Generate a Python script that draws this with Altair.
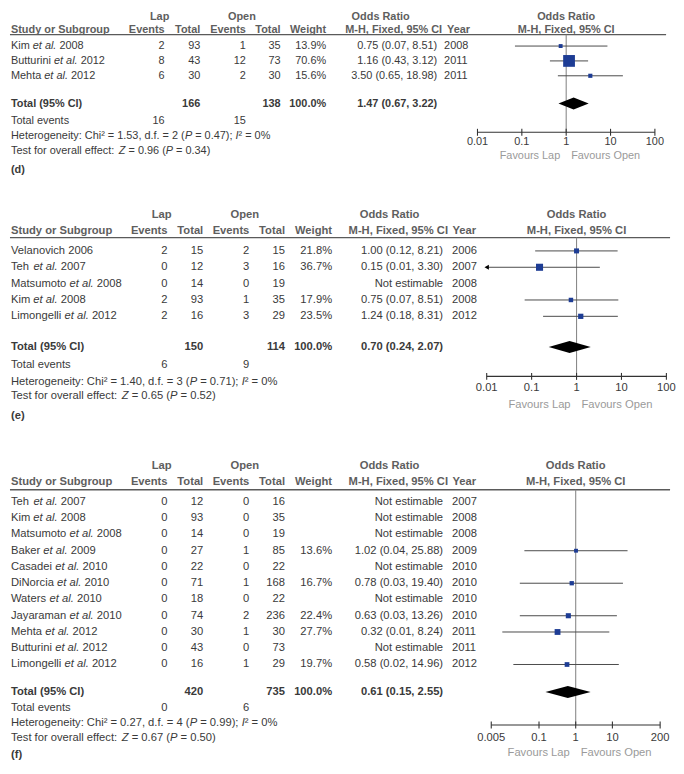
import altair as alt
import pandas as pd

FONT = "Liberation Sans, Arial, Helvetica, sans-serif"
BLUE = "#1d3c94"
TXT = "#3a3a3a"
HDR = "#5e5e5e"
FAV = "#9a9a9a"
W = 668

# ---------------- data: panel (d) ----------------
d_author = ["Kim", "Butturini", "Mehta"]
d_etal = [True, True, True]
d_pub = ["2008", "2012", "2012"]
d_lap_ev = [2, 8, 6]
d_lap_n = [93, 43, 30]
d_open_ev = [1, 12, 2]
d_open_n = [35, 73, 30]
d_weight = [13.9, 70.6, 15.6]
d_or = [0.75, 1.16, 3.50]
d_lo = [0.07, 0.43, 0.65]
d_hi = [8.51, 3.12, 18.98]
d_year = [2008, 2011, 2011]
d_tot_n = [166, 138]
d_tot_ev = [16, 15]
d_tot_or = [1.47, 0.67, 3.22]
d_het = ["1.53", "2", "0.47", "0"]
d_z = ["0.96", "0.34"]
d_ticks = [0.01, 0.1, 1, 10, 100]
d_tick_labels = ["0.01", "0.1", "1", "10", "100"]

# ---------------- data: panel (e) ----------------
e_author = ["Velanovich", "Teh", "Matsumoto", "Kim", "Limongelli"]
e_etal = [False, True, True, True, True]
e_pub = ["2006", "2007", "2008", "2008", "2012"]
e_lap_ev = [2, 0, 0, 2, 2]
e_lap_n = [15, 12, 14, 93, 16]
e_open_ev = [2, 3, 0, 1, 3]
e_open_n = [15, 16, 19, 35, 29]
e_weight = [21.8, 36.7, None, 17.9, 23.5]
e_or = [1.00, 0.15, None, 0.75, 1.24]
e_lo = [0.12, 0.01, None, 0.07, 0.18]
e_hi = [8.21, 3.30, None, 8.51, 8.31]
e_year = [2006, 2007, 2008, 2008, 2012]
e_tot_n = [150, 114]
e_tot_ev = [6, 9]
e_tot_or = [0.70, 0.24, 2.07]
e_het = ["1.40", "3", "0.71", "0"]
e_z = ["0.65", "0.52"]
e_ticks = [0.01, 0.1, 1, 10, 100]
e_tick_labels = ["0.01", "0.1", "1", "10", "100"]

# ---------------- data: panel (f) ----------------
f_author = ["Teh", "Kim", "Matsumoto", "Baker", "Casadei", "DiNorcia",
            "Waters", "Jayaraman", "Mehta", "Butturini", "Limongelli"]
f_etal = [True, True, True, True, True, True, True, True, True, True, True]
f_pub = ["2007", "2008", "2008", "2009", "2010", "2010", "2010", "2010",
         "2012", "2012", "2012"]
f_lap_ev = [0, 0, 0, 0, 0, 0, 0, 0, 0, 0, 0]
f_lap_n = [12, 93, 14, 27, 22, 71, 18, 74, 30, 43, 16]
f_open_ev = [0, 0, 0, 1, 0, 1, 0, 2, 1, 0, 1]
f_open_n = [16, 35, 19, 85, 22, 168, 22, 236, 30, 73, 29]
f_weight = [None, None, None, 13.6, None, 16.7, None, 22.4, 27.7, None, 19.7]
f_or = [None, None, None, 1.02, None, 0.78, None, 0.63, 0.32, None, 0.58]
f_lo = [None, None, None, 0.04, None, 0.03, None, 0.03, 0.01, None, 0.02]
f_hi = [None, None, None, 25.88, None, 19.40, None, 13.26, 8.24, None, 14.96]
f_year = [2007, 2008, 2008, 2009, 2010, 2010, 2010, 2010, 2011, 2011, 2012]
f_tot_n = [420, 735]
f_tot_ev = [0, 6]
f_tot_or = [0.61, 0.15, 2.55]
f_het = ["0.27", "4", "0.99", "0"]
f_z = ["0.67", "0.50"]
f_ticks = [0.005, 0.1, 1, 10, 200]
f_tick_labels = ["0.005", "0.1", "1", "10", "200"]

# ---------------- layout (pixels) ----------------
COLS_D = dict(name=3, lapE=158, lapT=194, openE=240, openT=275, wt=321, orr=433,
              yr=440, lapH=153, openH=236, orH=376, mh=438, yrH=443)
COLS_EF = dict(name=3, lapE=161, lapT=197, openE=243.5, openT=279.5, wt=327, orr=439,
               yr=448, lapH=155, openH=239, orH=385, mh=444, yrH=448.5)
LAY_D = dict(H=175, first=35, sp=15.0, fs=11, h1=-29, h2=-16.5, hl=-11.5, tot=28, tev=46,
             het=61, test=76, lab=95, axis=57, tick=67, fav=81, cols=COLS_D,
             xr=[473.7, 652.7], dom=[0.01, 100], hlx2=664)
LAY_E = dict(H=236, first=66.7, sp=16.5, fs=11.3, h1=-36.5, h2=-20.5, hl=-13.4, tot=31,
             tev=49, het=66, test=80.5, lab=100.5, axis=60.6, tick=72.5, fav=89,
             cols=COLS_EF, xr=[483, 664.3], dom=[0.01, 100], hlx2=668)
LAY_F = dict(H=345, first=84, sp=16.4, fs=11.3, h1=-36.5, h2=-20, hl=-12.3, tot=27.7,
             tev=44.3, het=59.3, test=74.3, lab=91, axis=61, tick=74, fav=89,
             cols=COLS_EF, xr=[487.6, 658], dom=[0.005, 200], hlx2=668)

# Arial / Liberation Sans advance widths (1/1000 em)
AW = {' ': 278, '%': 889, '(': 333, ')': 333, ',': 278, '-': 333, '.': 278, ':': 278,
      ';': 278, '=': 584, '\u00b2': 333,
      'A': 667, 'B': 667, 'C': 722, 'D': 722, 'E': 667, 'F': 611, 'G': 778, 'H': 722,
      'I': 278, 'J': 500, 'K': 667, 'L': 556, 'M': 833, 'N': 722, 'O': 778, 'P': 667,
      'Q': 778, 'R': 722, 'S': 667, 'T': 611, 'U': 722, 'V': 667, 'W': 944, 'X': 667,
      'Y': 667, 'Z': 611,
      'a': 556, 'b': 556, 'c': 500, 'd': 556, 'e': 556, 'f': 278, 'g': 556, 'h': 556,
      'i': 222, 'j': 222, 'k': 500, 'l': 222, 'm': 833, 'n': 556, 'o': 556, 'p': 556,
      'q': 556, 'r': 333, 's': 500, 't': 278, 'u': 556, 'v': 500, 'w': 722, 'x': 500,
      'y': 500, 'z': 500}


def tw(s, fs):
    return sum(AW.get(c, 556) for c in s) * fs / 1000.0


def seg_items(segs, x0, y, fs, color=TXT):
    items = []
    cx = x0
    for txt, ital in segs:
        lead = len(txt) - len(txt.lstrip(" "))
        core = txt.strip(" ")
        if core:
            items.append(dict(x=cx + tw(" " * lead, fs), y=y, text=core,
                              style="i" if ital else "n", align="left", color=color, size=fs))
        cx += tw(txt, fs)
    return items


def fmt_or(o, lo, hi):
    return f"{o:.2f} ({lo:.2f}, {hi:.2f})"


def build_panel(P, L, label):
    C = L["cols"]
    fs = L["fs"]
    sp = L["sp"]
    n = len(P["author"])
    last = (n - 1) * sp

    def u(px):
        return px / sp

    y_h1, y_h2, y_hl = u(L["h1"]), u(L["h2"]), u(L["hl"])
    y_tot, y_tev = u(last + L["tot"]), u(last + L["tev"])
    y_het, y_test, y_lab = u(last + L["het"]), u(last + L["test"]), u(last + L["lab"])
    y_axis, y_tick, y_fav = u(last + L["axis"]), u(last + L["tick"]), u(last + L["fav"])

    YS = alt.Scale(domain=[-L["first"] / sp, (L["H"] - L["first"]) / sp],
                   reverse=True, zero=False, nice=False)
    TX = alt.Scale(domain=[0, W], range=[0, W], zero=False, nice=False)
    FX = alt.Scale(type="log", domain=L["dom"], range=L["xr"], nice=False)

    items = []

    def add(x, y, text, style="n", align="left", color=TXT):
        items.append(dict(x=x, y=y, text=str(text), style=style, align=align,
                          color=color, size=fs))

    # headers
    add(C["lapH"], y_h1, "Lap", "b", "center", HDR)
    add(C["openH"], y_h1, "Open", "b", "center", HDR)
    add(C["orH"], y_h1, "Odds Ratio", "b", "center", HDR)
    add(C["name"], y_h2, "Study or Subgroup", "b", "left", HDR)
    add(C["lapE"], y_h2, "Events", "b", "right", HDR)
    add(C["lapT"], y_h2, "Total", "b", "right", HDR)
    add(C["openE"], y_h2, "Events", "b", "right", HDR)
    add(C["openT"], y_h2, "Total", "b", "right", HDR)
    add(C["wt"], y_h2, "Weight", "b", "right", HDR)
    add(C["mh"], y_h2, "M-H, Fixed, 95% CI", "b", "right", HDR)
    add(C["yrH"], y_h2, "Year", "b", "left", HDR)

    # study rows
    for i in range(n):
        if P["etal"][i]:
            segs = [(P["author"][i] + " ", False), ("et al.", True), (" " + P["pub"][i], False)]
        else:
            segs = [(P["author"][i] + " " + P["pub"][i], False)]
        items.extend(seg_items(segs, C["name"], i, fs))
        add(C["lapE"], i, P["lap_ev"][i], "n", "right")
        add(C["lapT"], i, P["lap_n"][i], "n", "right")
        add(C["openE"], i, P["open_ev"][i], "n", "right")
        add(C["openT"], i, P["open_n"][i], "n", "right")
        if P["or"][i] is not None:
            add(C["wt"], i, f"{P['weight'][i]:.1f}%", "n", "right")
            add(C["orr"], i, fmt_or(P["or"][i], P["lo"][i], P["hi"][i]), "n", "right")
        else:
            add(C["orr"], i, "Not estimable", "n", "right")
        add(C["yr"], i, P["year"][i], "n", "left")

    # totals
    add(C["name"], y_tot, "Total (95% CI)", "b", "left")
    add(C["lapT"], y_tot, P["tot_n"][0], "b", "right")
    add(C["openT"], y_tot, P["tot_n"][1], "b", "right")
    add(C["wt"], y_tot, "100.0%", "b", "right")
    add(C["orr"], y_tot, fmt_or(*P["tot_or"]), "b", "right")
    add(C["name"], y_tev, "Total events", "n", "left")
    add(C["lapE"], y_tev, P["tot_ev"][0], "n", "right")
    add(C["openE"], y_tev, P["tot_ev"][1], "n", "right")
    h = P["het"]
    items.extend(seg_items([(f"Heterogeneity: Chi\u00b2 = {h[0]}, d.f. = {h[1]} (", False),
                            ("P", True), (f" = {h[2]}); ", False), ("I", True),
                            (f"\u00b2 = {h[3]}%", False)], C["name"], y_het, fs))
    z = P["z"]
    items.extend(seg_items([("Test for overall effect: ", False), ("Z", True),
                            (f" = {z[0]} (", False), ("P", True), (f" = {z[1]})", False)],
                           C["name"], y_test, fs))
    add(C["name"], y_lab, label, "b", "left")

    tdf = pd.DataFrame(items)
    table_layers = []
    for (style, align), sub in tdf.groupby(["style", "align"]):
        kw = dict(align=align, baseline="middle", font=FONT)
        if style == "b":
            kw["fontWeight"] = "bold"
        if style == "i":
            kw["fontStyle"] = "italic"
        table_layers.append(
            alt.Chart(sub.reset_index(drop=True)).mark_text(**kw).encode(
                x=alt.X("x:Q", scale=TX, axis=None),
                y=alt.Y("y:Q", scale=YS, axis=None),
                text="text:N",
                color=alt.Color("color:N", scale=None),
                size=alt.Size("size:Q", scale=None),
            ))
    hline = alt.Chart(pd.DataFrame({"x": [2], "x2": [L["hlx2"]], "y": [y_hl]})).mark_rule(
        color="#5a5a5a", strokeWidth=1.4).encode(
        x=alt.X("x:Q", scale=TX, axis=None), x2="x2:Q",
        y=alt.Y("y:Q", scale=YS, axis=None))
    table = alt.layer(hline, *table_layers)

    # ----- forest part -----
    d0, d1 = L["dom"]
    est = pd.DataFrame({"row": list(range(n)), "or": P["or"], "lo": P["lo"],
                        "hi": P["hi"], "weight": P["weight"]}).dropna()
    est["lo_d"] = est["lo"].clip(lower=d0)
    est["hi_d"] = est["hi"].clip(upper=d1)
    est["area"] = (2 + 0.14 * est["weight"]) ** 2
    arrows = est[est["lo"] <= d0].assign(xa=d0)

    def X(f):
        return alt.X(f, scale=FX, axis=None)

    def Y(f):
        return alt.Y(f, scale=YS, axis=None)

    null_line = alt.Chart(pd.DataFrame({"x": [1], "y": [y_hl], "y2": [y_axis]})).mark_rule(
        color="#8a8a8a", strokeWidth=1.1).encode(x=X("x:Q"), y=Y("y:Q"), y2="y2:Q")
    ci = alt.Chart(est).mark_rule(color="#4a4a4a", strokeWidth=1).encode(
        x=X("lo_d:Q"), x2="hi_d:Q", y=Y("row:Q"))
    sq = alt.Chart(est).mark_square(color=BLUE, filled=True, opacity=1).encode(
        x=X("or:Q"), y=Y("row:Q"), size=alt.Size("area:Q", scale=None))
    layers = [null_line, ci, sq]
    if len(arrows):
        layers.append(alt.Chart(arrows).mark_point(
            shape="triangle-left", filled=True, color="black", opacity=1, size=26).encode(
            x=X("xa:Q"), y=Y("row:Q")))
    to, tlo, thi = P["tot_or"]
    dh = 6.0 / sp
    dia = pd.DataFrame({"x": [tlo, to, thi], "y": [y_tot, y_tot - dh, y_tot],
                        "y2": [y_tot, y_tot + dh, y_tot]})
    layers.append(alt.Chart(dia).mark_area(orient="vertical", color="black", opacity=1).encode(
        x=X("x:Q"), y=Y("y:Q"), y2="y2:Q"))
    layers.append(alt.Chart(pd.DataFrame({"x": [d0], "x2": [d1], "y": [y_axis]})).mark_rule(
        color="#333333", strokeWidth=1.1).encode(x=X("x:Q"), x2="x2:Q", y=Y("y:Q")))
    tk = pd.DataFrame({"x": P["ticks"], "lab": P["tick_labels"]})
    tk["y"] = y_axis - 3.5 / sp
    tk["y2"] = y_axis + 3.5 / sp
    tk["ly"] = y_tick
    layers.append(alt.Chart(tk).mark_rule(color="#333333", strokeWidth=1.1).encode(
        x=X("x:Q"), y=Y("y:Q"), y2="y2:Q"))
    layers.append(alt.Chart(tk).mark_text(baseline="middle", align="center", font=FONT,
                                          fontSize=fs, color="#3a3a3a").encode(
        x=X("x:Q"), y=Y("ly:Q"), text="lab:N"))
    fav = pd.DataFrame({"x": [1], "y": [y_fav]})
    layers.append(alt.Chart(fav).mark_text(baseline="middle", align="right", dx=-6, font=FONT,
                                           fontSize=fs, color=FAV, text="Favours Lap").encode(
        x=X("x:Q"), y=Y("y:Q")))
    layers.append(alt.Chart(fav).mark_text(baseline="middle", align="left", dx=5, font=FONT,
                                           fontSize=fs, color=FAV, text="Favours Open").encode(
        x=X("x:Q"), y=Y("y:Q")))
    orh = pd.DataFrame({"x": [1, 1], "y": [y_h1, y_h2],
                        "t": ["Odds Ratio", "M-H, Fixed, 95% CI"]})
    layers.append(alt.Chart(orh).mark_text(baseline="middle", align="center", font=FONT,
                                           fontSize=fs, fontWeight="bold", color=HDR).encode(
        x=X("x:Q"), y=Y("y:Q"), text="t:N"))
    forest = alt.layer(*layers)

    return alt.layer(table, forest).resolve_scale(x="independent").properties(
        width=W, height=L["H"])


def pack(prefix):
    g = globals()
    keys = ["author", "etal", "pub", "lap_ev", "lap_n", "open_ev", "open_n", "weight", "or",
            "lo", "hi", "year", "tot_n", "tot_ev", "tot_or", "het", "z", "ticks", "tick_labels"]
    return {k: g[f"{prefix}_{k}"] for k in keys}


panel_d = build_panel(pack("d"), LAY_D, "(d)")
panel_e = build_panel(pack("e"), LAY_E, "(e)")
panel_f = build_panel(pack("f"), LAY_F, "(f)")

chart = alt.vconcat(panel_d, panel_e, panel_f, spacing=0, bounds="flush").properties(
    padding=0, background="white"
).configure_view(stroke=None)

chart.save("out.html", embed_options={"renderer": "svg", "actions": False})
